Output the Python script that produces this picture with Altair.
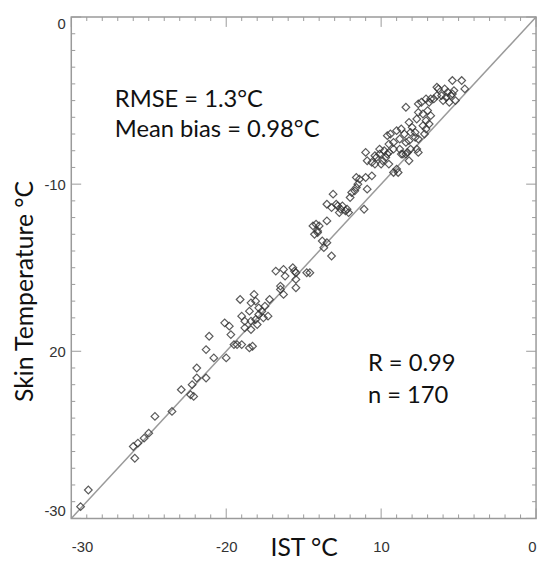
import altair as alt
import pandas as pd

# IST (x) and skin temperature (y), degrees C
ist = [-29.4, -28.9, -25.9, -26.0, -25.7, -25.3, -25.0, -24.6, -23.5, -22.9,
       -22.3, -22.1, -22.2, -21.9, -21.9, -21.3, -21.3, -20.8, -20.0, -19.5,
       -19.0, -21.1, -20.1, -19.8, -19.7, -19.3, -18.5, -18.3, -19.1, -19.0,
       -18.8, -18.8, -18.5, -18.4, -18.2, -18.4, -18.4, -18.1, -17.9, -17.9,
       -17.7, -17.6, -18.1, -18.0, -17.5, -17.2, -17.3, -16.8, -16.3, -16.2,
       -16.5, -16.5, -16.3, -15.7, -15.6, -15.5, -15.5, -15.5, -14.8, -14.6,
       -13.7, -13.5, -13.2, -14.1, -13.8, -14.4, -14.2, -14.0, -14.3, -14.1,
       -13.5, -13.5, -13.2, -12.9, -12.8, -12.6, -12.5, -13.1, -12.7, -12.3,
       -12.1, -12.2, -11.9, -11.7, -11.6, -11.5, -11.4, -11.6, -11.1, -10.9,
       -11.0, -10.6, -10.9, -10.6, -10.4, -10.3, -10.0, -9.9, -9.7, -9.6,
       -9.5, -9.2, -8.9, -9.0, -8.7, -8.4, -8.2, -11.0, -10.4, -10.1,
       -8.4, -7.6, -7.4, -7.1, -6.9, -6.8, -6.6, -6.4, -6.4, -6.3,
       -6.1, -5.9, -5.7, -5.5, -5.4, -5.6, -5.2, -5.3, -5.4, -4.8,
       -4.6, -7.6, -7.3, -7.0, -6.8, -7.1, -6.9, -7.3, -7.7, -8.2,
       -8.0, -8.1, -7.8, -7.8, -7.6, -7.2, -7.1, -9.0, -9.4, -9.6,
       -8.7, -8.5, -8.8, -9.2, -9.5, -8.4, -8.2, -9.8, -10.1, -9.5,
       -9.2, -8.8, -8.6, -8.3, -8.1, -7.7, -7.6, -6.0, -5.8, -12.0]

skin = [-29.3, -28.3, -26.4, -25.7, -25.5, -25.2, -24.9, -23.9, -23.6, -22.3,
        -22.6, -22.7, -22.0, -21.0, -21.6, -21.6, -19.9, -20.4, -20.4, -19.6,
        -19.6, -19.1, -18.3, -18.5, -19.0, -19.6, -19.8, -19.7, -16.9, -17.9,
        -18.6, -18.2, -17.6, -17.1, -16.6, -18.2, -18.7, -17.0, -17.4, -17.8,
        -17.6, -18.0, -18.1, -18.4, -17.3, -16.9, -17.9, -15.2, -15.1, -15.5,
        -16.1, -16.3, -16.6, -15.0, -15.2, -15.3, -15.7, -16.2, -15.3, -15.3,
        -13.8, -13.5, -14.3, -12.8, -13.4, -12.5, -12.4, -12.5, -13.0, -12.9,
        -12.2, -11.2, -11.4, -11.2, -11.3, -11.5, -11.3, -10.6, -11.7, -11.6,
        -11.7, -11.5, -10.5, -10.4, -10.2, -10.0, -9.7, -9.6, -11.5, -10.3,
        -9.6, -9.5, -8.6, -8.7, -8.8, -8.4, -8.8, -8.6, -8.4, -8.2,
        -8.8, -9.3, -9.3, -9.1, -8.2, -8.2, -8.6, -8.1, -8.3, -8.2,
        -5.4, -5.2, -5.1, -4.9, -5.1, -4.9, -4.9, -4.7, -4.2, -4.3,
        -4.7, -4.3, -4.5, -4.7, -4.6, -5.1, -5.0, -4.4, -3.8, -3.8,
        -4.3, -5.7, -5.8, -5.6, -5.9, -6.2, -6.4, -6.5, -6.1, -6.3,
        -6.6, -6.9, -6.9, -7.2, -7.3, -7.0, -6.7, -6.8, -7.0, -7.1,
        -6.7, -7.0, -7.3, -7.5, -7.6, -7.5, -7.4, -8.0, -7.9, -8.1,
        -7.9, -7.9, -8.2, -8.1, -7.9, -7.9, -8.1, -5.0, -4.8, -10.8]

major_ticks = [-30, -20, -10, 0]
minor_ticks = [v for v in range(-29, 0) if v % 10 != 0]
x_tick_labels = ["-30", "-20", "10", "0"]
y_tick_labels = ["-30", "20", "-10", "0"]
one_to_one = [-30, 0]
stats_left = "RMSE = 1.3°C\nMean bias = 0.98°C"
stats_right = "R = 0.99\nn = 170"

W, H = 470, 507
TXT_FONT = "Lato"
LBL_FONT = "Liberation Sans"
GRAY = "#9a9a9a"


def label_expr(values, labels):
    expr = "''"
    for v, l in zip(values, labels):
        expr = f"datum.value == {v} ? '{l}' : ({expr})"
    return expr


xs = alt.Scale(domain=[-30, 0], nice=False, zero=False)
ys = alt.Scale(domain=[-30, 0], nice=False, zero=False)

xaxis = alt.Axis(values=major_ticks, labelExpr=label_expr(major_ticks, x_tick_labels),
                 ticks=False, domain=False, grid=False, labelPadding=21,
                 labelFont=LBL_FONT, labelFontSize=15, labelColor="#333",
                 title="IST °C", titleFont=TXT_FONT, titleFontSize=25,
                 titleFontWeight="normal", titleColor="#111",
                 titleY=38, titleBaseline="alphabetic")
yaxis = alt.Axis(values=major_ticks, labelExpr=label_expr(major_ticks, y_tick_labels),
                 ticks=False, domain=False, grid=False, labelPadding=6,
                 labelFlush=True, labelFlushOffset=0,
                 labelFont=LBL_FONT, labelFontSize=15, labelColor="#333",
                 title="Skin Temperature °C", titleFont=TXT_FONT, titleFontSize=25,
                 titleFontWeight="normal", titleColor="#111",
                 titleX=-39, titleY=277, titleAngle=-90, titleAlign="center",
                 titleBaseline="alphabetic")

df = pd.DataFrame({"ist": ist, "skin": skin})

points = alt.Chart(df).mark_point(
    shape="diamond", filled=False, size=60, stroke="#333333",
    strokeWidth=1.2, opacity=0.8
).encode(
    x=alt.X("ist:Q", scale=xs, axis=xaxis),
    y=alt.Y("skin:Q", scale=ys, axis=yaxis),
)

line = alt.Chart(pd.DataFrame({"v": one_to_one})).mark_line(
    color=GRAY, strokeWidth=1.5
).encode(
    x=alt.X("v:Q", scale=xs, axis=xaxis),
    y=alt.Y("v:Q", scale=ys, axis=yaxis),
)


def xticks(vals, length):
    d = pd.DataFrame({"t": vals})
    bottom = alt.Chart(d).mark_rule(color=GRAY, strokeWidth=1).encode(
        x=alt.X("t:Q", scale=xs, axis=xaxis), y=alt.value(H), y2=alt.value(H - length))
    top = alt.Chart(d).mark_rule(color=GRAY, strokeWidth=1).encode(
        x=alt.X("t:Q", scale=xs, axis=xaxis), y=alt.value(0), y2=alt.value(length))
    return [bottom, top]


def yticks(vals, length):
    d = pd.DataFrame({"t": vals})
    left = alt.Chart(d).mark_rule(color=GRAY, strokeWidth=1).encode(
        y=alt.Y("t:Q", scale=ys, axis=yaxis), x=alt.value(0), x2=alt.value(length))
    right = alt.Chart(d).mark_rule(color=GRAY, strokeWidth=1).encode(
        y=alt.Y("t:Q", scale=ys, axis=yaxis), x=alt.value(W), x2=alt.value(W - length))
    return [left, right]


tick_layers = xticks(minor_ticks, 4) + xticks(major_ticks, 10) + \
    yticks(minor_ticks, 4) + yticks(major_ticks, 10)

one = alt.Data(values=[{"k": 1}])
txt_left = alt.Chart(one).mark_text(
    text=stats_left, lineBreak="\n", lineHeight=30, align="left",
    baseline="alphabetic", font=TXT_FONT, fontSize=24, color="#111"
).encode(x=alt.value(44), y=alt.value(91))
txt_right = alt.Chart(one).mark_text(
    text=stats_right, lineBreak="\n", lineHeight=32, align="left",
    baseline="alphabetic", font=TXT_FONT, fontSize=24, color="#111"
).encode(x=alt.value(300), y=alt.value(358))

chart = alt.layer(line, *tick_layers, points, txt_left, txt_right).properties(
    width=W, height=H,
    autosize=alt.AutoSizeParams(type="none"),
    padding={"left": 64, "top": 6, "right": 4, "bottom": 44},
    background="white",
).configure_view(stroke=GRAY, strokeWidth=1.5)

chart.save("out.html", embed_options={"renderer": "svg", "actions": False})
